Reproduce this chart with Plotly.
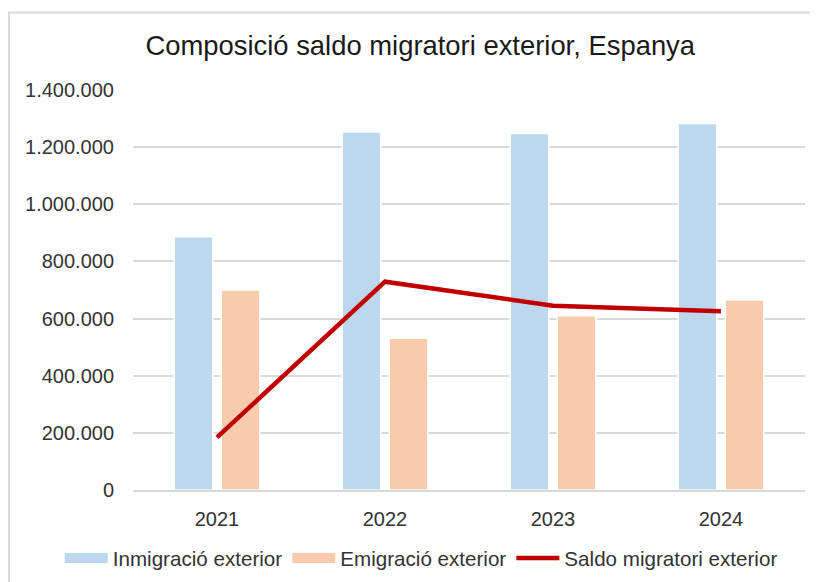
import plotly.graph_objects as go

anys = ["2021", "2022", "2023", "2024"]
immigracio = [886000, 1253000, 1248000, 1283000]
emigracio = [700000, 531000, 610000, 665000]
saldo = [184000, 729000, 645000, 626000]

BLAU = "#BDD7EE"
PRESSEC = "#F8CBAD"
VERMELL = "#C00000"
FONT = "Liberation Sans, Arial, sans-serif"

fig = go.Figure()
fig.add_trace(go.Bar(
    x=anys, y=immigracio, name="Inmigració exterior",
    marker=dict(color=BLAU, line=dict(color="white", width=1.5)),
    showlegend=False,
))
fig.add_trace(go.Bar(
    x=anys, y=emigracio, name="Emigració exterior",
    marker=dict(color=PRESSEC, line=dict(color="white", width=1.5)),
    showlegend=False,
))
fig.add_trace(go.Scatter(
    x=anys, y=saldo, name="Saldo migratori exterior",
    mode="lines", line=dict(color=VERMELL, width=4.5),
    showlegend=False,
))

# legend entries drawn as wide swatches, like the spreadsheet original
for nom, color, gruix in [
    ("Inmigració exterior", BLAU, 10),
    ("Emigració exterior", PRESSEC, 10),
    ("Saldo migratori exterior", VERMELL, 4.5),
]:
    fig.add_trace(go.Scatter(
        x=[None], y=[None], name=nom, mode="lines",
        line=dict(color=color, width=gruix),
    ))

fig.update_layout(
    width=818,
    height=582,
    paper_bgcolor="white",
    plot_bgcolor="white",
    separators=",.",
    font=dict(family=FONT, size=20, color="#333333"),
    title=dict(
        text="Composició saldo migratori exterior, Espanya",
        font=dict(size=27.4, color="#1a1a1a"),
        x=0.504, xanchor="center",
        y=0.936, yanchor="middle",
    ),
    margin=dict(l=125, r=21, t=82, b=100, autoexpand=False),
    barmode="group",
    bargap=0.44,
    bargroupgap=0.18,
    legend=dict(
        orientation="h",
        x=-0.109, xanchor="left",
        y=-0.17, yanchor="middle",
        font=dict(size=20.6, color="#333333"),
        itemwidth=43,
        tracegroupgap=0,
    ),
    xaxis=dict(
        showgrid=False,
        showline=True, linecolor="#d9d9d9", linewidth=1.5,
        ticks="",
        ticklabelstandoff=10,
        automargin=False,
    ),
    yaxis=dict(
        range=[0, 1400000],
        dtick=200000,
        tickformat=",d",
        showgrid=True, gridcolor="#d9d9d9", gridwidth=1.5,
        zeroline=False,
        ticks="",
        ticklabelstandoff=18,
        automargin=False,
    ),
    shapes=[dict(
        type="rect", xref="paper", yref="paper",
        x0=-0.1845, x1=1.1, y0=-0.5, y1=1.194,
        line=dict(color="#d9d9d9", width=2),
        layer="below",
    )],
)

fig.write_html("out.html")
